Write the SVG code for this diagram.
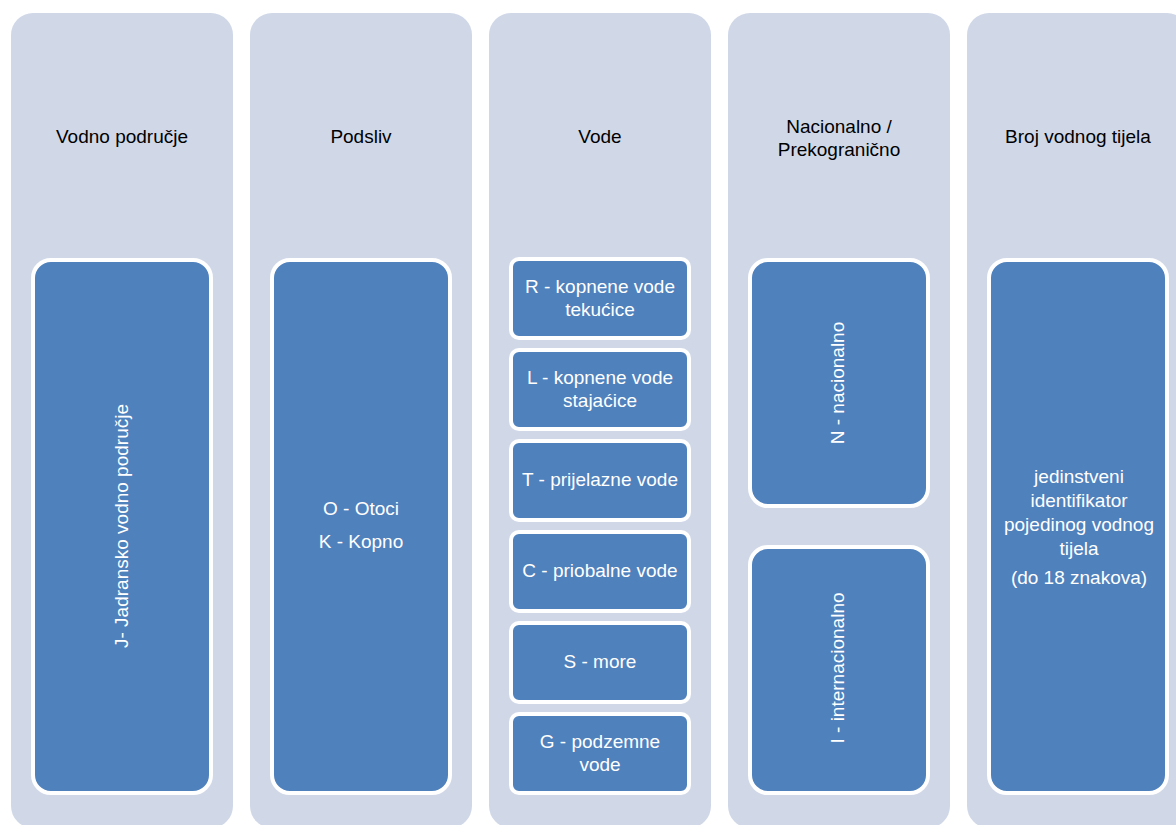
<svg xmlns="http://www.w3.org/2000/svg" width="1176" height="825" viewBox="0 0 1176 825">
<style>
.col{fill:#D0D8E8}
.box{fill:#4F81BD;stroke:#FFFFFF;stroke-width:4}
.h{font-family:"Liberation Sans",Arial,sans-serif;font-size:19px;fill:#000;text-anchor:middle}
.t{font-family:"Liberation Sans",Arial,sans-serif;font-size:19px;fill:#FFFFFF;text-anchor:middle}
</style>
<rect width="1176" height="825" fill="#FFFFFF"/>
<g id="col1">
<rect class="col" x="11" y="13" width="222" height="815" rx="22"/>
<text class="h" x="122" y="143">Vodno područje</text>
<rect class="box" x="33" y="260" width="178" height="533" rx="18"/>
<text class="t" transform="translate(128,526) rotate(-90)">J- Jadransko vodno područje</text>
</g>
<g id="col2">
<rect class="col" x="250" y="13" width="222" height="815" rx="22"/>
<text class="h" x="361" y="143">Podsliv</text>
<rect class="box" x="272" y="260" width="178" height="533" rx="18"/>
<text class="t" x="361" y="515">O - Otoci</text>
<text class="t" x="361" y="548">K - Kopno</text>
</g>
<g id="col3">
<rect class="col" x="489" y="13" width="222" height="815" rx="22"/>
<text class="h" x="600" y="143">Vode</text>
<g id="R"><rect class="box" x="511" y="259" width="178" height="79" rx="8"/>
<text class="t" x="600" y="293">R - kopnene vode</text><text class="t" x="600" y="316">tekućice</text></g>
<g id="L"><rect class="box" x="511" y="350" width="178" height="79" rx="8"/>
<text class="t" x="600" y="384">L - kopnene vode</text><text class="t" x="600" y="407">stajaćice</text></g>
<g id="T"><rect class="box" x="511" y="441" width="178" height="79" rx="8"/>
<text class="t" x="600" y="486">T - prijelazne vode</text></g>
<g id="C"><rect class="box" x="511" y="532" width="178" height="79" rx="8"/>
<text class="t" x="600" y="577">C - priobalne vode</text></g>
<g id="S"><rect class="box" x="511" y="623" width="178" height="79" rx="8"/>
<text class="t" x="600" y="668">S - more</text></g>
<g id="G"><rect class="box" x="511" y="714" width="178" height="79" rx="8"/>
<text class="t" x="600" y="748">G - podzemne</text><text class="t" x="600" y="771">vode</text></g>
</g>
<g id="col4">
<rect class="col" x="728" y="13" width="222" height="815" rx="22"/>
<text class="h" x="839" y="133">Nacionalno /</text>
<text class="h" x="839" y="156">Prekogranično</text>
<g id="N"><rect class="box" x="750" y="260" width="178" height="246" rx="18"/>
<text class="t" transform="translate(844,383) rotate(-90)">N - nacionalno</text></g>
<g id="I"><rect class="box" x="750" y="547" width="178" height="246" rx="18"/>
<text class="t" transform="translate(844,668) rotate(-90)">I - internacionalno</text></g>
</g>
<g id="col5">
<rect class="col" x="967" y="13" width="222" height="815" rx="22"/>
<text class="h" x="1078" y="143">Broj vodnog tijela</text>
<rect class="box" x="989" y="260" width="178" height="533" rx="18"/>
<text class="t" x="1079" y="483">jedinstveni</text>
<text class="t" x="1079" y="507">identifikator</text>
<text class="t" x="1079" y="531">pojedinog vodnog</text>
<text class="t" x="1079" y="555">tijela</text>
<text class="t" x="1079" y="584">(do 18 znakova)</text>
</g>
<g id="connectors"></g>
</svg>
